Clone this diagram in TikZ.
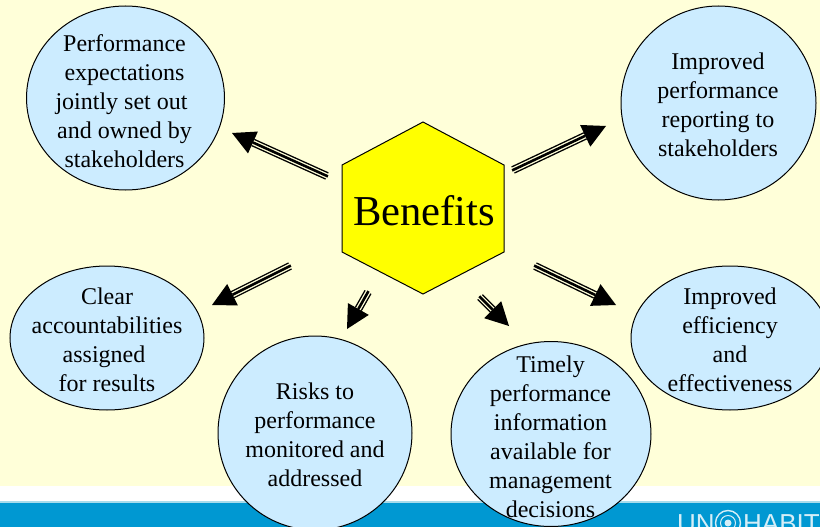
\documentclass[tikz,border=0pt]{standalone}
\usepackage{fontspec}
\setmainfont{Liberation Serif}
\newfontfamily\logofont{Liberation Sans}
\usetikzlibrary{calc,shapes.geometric}
\definecolor{bgcream}{HTML}{FFFFD9}
\definecolor{bubble}{HTML}{CCECFF}
\definecolor{hexyellow}{HTML}{FFFF00}
\definecolor{band}{HTML}{0098D2}
\definecolor{bandedge}{HTML}{A8DCEC}
\definecolor{logotext}{HTML}{D5EEF7}
\tikzset{
  x=1pt,y=-1pt,
  bubblenode/.style={draw=black,line width=1pt,fill=bubble,ellipse,inner sep=0pt},
  label/.style={align=center,inner sep=0pt,font=\fontsize{24}{29}\selectfont,text=black},
  logoword/.style={anchor=base west,inner sep=0pt,text=logotext,font=\logofont\fontsize{26}{26}\selectfont},
}
\newcommand{\bubbleat}[4]{\node[bubblenode,minimum width=#3pt,minimum height=#4pt] (#1) at #2 {};}
% triple-line arrow from coordinate #1 (tail) to coordinate #2 (tip)
\newcommand{\triplearrow}[2]{%
  \coordinate (#2base) at ($(#2)!23pt!(#1)$);
  \draw[line width=8pt,black] (#1) -- (#2base);
  \draw[line width=5.2pt,bgcream,shorten <=-1pt] (#1) -- (#2base);
  \draw[line width=2.6pt,black,shorten <=-1pt] (#1) -- (#2base);
  \fill[black] (#2) -- ($(#2base)!12pt!90:(#2)$) -- ($(#2base)!12pt!-90:(#2)$) -- cycle;
}
\begin{document}
\begin{tikzpicture}
\useasboundingbox (0,0) rectangle (820,527);
\fill[bgcream] (0,0) rectangle (820,486);
\fill[white] (0,486) rectangle (820,501);
\fill[bandedge] (0,500.5) rectangle (820,503);
\fill[band] (0,502.5) rectangle (820,527);

\begin{scope}
\clip (0,0) rectangle (820,527);
\bubbleat{b1}{(125.5,98)}{198}{184}
\bubbleat{b2}{(718.5,103)}{195}{194}
\bubbleat{b3}{(107,338)}{194}{144}
\bubbleat{b4}{(315,433)}{194}{194}
\bubbleat{b5}{(551,434)}{200}{185}
\bubbleat{b6}{(730,338)}{198}{144}

\node[logoword] (unlogo) at (677,532) {UN};
\node[circle,draw=logotext,line width=1.4pt,minimum size=25pt,inner sep=0pt] (emblem) at (728,523) {};
\draw[logotext,line width=1pt] (emblem) circle[radius=7.5pt];
\fill[logotext] (emblem) circle[radius=3.5pt];
\node[logoword] (habit) at (743,532) {HABITAT};
\end{scope}

\draw[black,line width=1pt,fill=hexyellow] (423,122) -- (504,165) -- (504,252) -- (423,294) -- (342,252) -- (342,165) -- cycle;
\node[inner sep=0pt,font=\fontsize{42.6}{50}\selectfont] (benefits) at (424,211) {Benefits};

\node[label] (t1) at (124.5,101) {Performance\\expectations\\jointly set out\kern6pt\\and owned by\\stakeholders};
\node[label] (t2) at (718,105) {Improved\\performance\\reporting to\\stakeholders};
\node[label] (t3) at (107,340) {Clear\\accountabilities\\assigned\kern6pt\\for results};
\node[label] (t4) at (315,435) {Risks to\\performance\\monitored and\\addressed};
\node[label] (t5) at (550.5,437) {Timely\\performance\\information\\available for\\management\\decisions};
\node[label] (t6) at (730,340) {Improved\\efficiency\\and\\effectiveness};

\coordinate (a1s) at (327,176); \coordinate (a1) at (232,133);
\coordinate (a2s) at (513,170); \coordinate (a2) at (606,126);
\coordinate (a3s) at (290,266); \coordinate (a3) at (212,305);
\coordinate (a4s) at (368,292); \coordinate (a4) at (347,329);
\coordinate (a5s) at (480,297); \coordinate (a5) at (509,326);
\coordinate (a6s) at (535,266); \coordinate (a6) at (616,305);
\triplearrow{a1s}{a1}
\triplearrow{a2s}{a2}
\triplearrow{a3s}{a3}
\triplearrow{a4s}{a4}
\triplearrow{a5s}{a5}
\triplearrow{a6s}{a6}
\end{tikzpicture}
\end{document}
